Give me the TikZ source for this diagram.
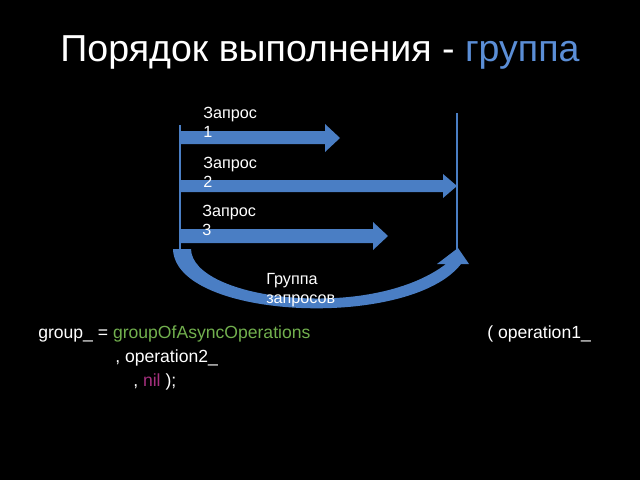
\documentclass[tikz,border=0pt]{standalone}
\usepackage{fontspec}
\setmainfont{Liberation Sans}
\usepackage{tikz}

\definecolor{arrowblue}{HTML}{4A7EC4}
\definecolor{titleblue}{HTML}{5B8ED6}
\definecolor{codegreen}{HTML}{72B04E}
\definecolor{codepink}{HTML}{A6307F}

\tikzset{
  blockarrow/.style={fill=arrowblue,draw=none},
  lane/.style={arrowblue,line width=1.4pt},
  reqlabel/.style={text=white,anchor=north west,inner sep=0pt,align=left,
    font=\fontsize{11.5}{13.5}\selectfont},
  codeline/.style={text=white,anchor=base west,inner sep=0pt,
    font=\fontsize{12.5}{15}\selectfont}
}

\begin{document}
\begin{tikzpicture}[x=0.025cm,y=-0.025cm]
    \fill[black] (0,0) rectangle (640,480);
    \node(title) at (320,62) [anchor=base,text=white,inner sep=0pt,
        font=\fontsize{26.7}{32}\selectfont]
        {Порядок выполнения - \textcolor{titleblue}{группа}};
    % start and end lines
    \draw[lane] (180,125) -- (180,250);
    \draw[lane] (457,113) -- (457,252);
    % requests
    \fill[blockarrow]
        (180,131) -- (325,131) -- (325,124) --
        (340,138) -- (325,152) -- (325,144) --
        (180,144) -- cycle;
    \fill[blockarrow]
        (180,180) -- (443,180) -- (443,174) --
        (457,186) -- (443,198) -- (443,192) --
        (180,192) -- cycle;
    \fill[blockarrow]
        (180,229) -- (373,229) -- (373,222) --
        (388,236) -- (373,250) -- (373,243) --
        (180,243) -- cycle;
    \node(q1) at (203,107) [reqlabel] {Запрос\\1};
    \node(q2) at (203,157) [reqlabel] {Запрос\\2};
    \node(q3) at (202,205) [reqlabel] {Запрос\\3};
    % group arrow
    \fill[blockarrow]
        (173,249) -- (191,249) .. controls (192,300) and (370,322) ..
        (446,264) -- (437,264) -- (458,248) -- (469,264) --
        (461,264) .. controls (410,330) and (175,320) .. (173,249) -- cycle;
    \node(grp) at (266,273) [reqlabel] {Группа\\запросов};
    % code
    \node(c1) at (38,338) [codeline]
        {group\_ = \textcolor{codegreen}{groupOfAsyncOperations}};
    \node(c2) at (487,338) [codeline] {( operation1\_};
    \node(c3) at (115,362) [codeline] {, operation2\_};
    \node(c4) at (133,386) [codeline] {, \textcolor{codepink}{nil} );};
\end{tikzpicture}
\end{document}
